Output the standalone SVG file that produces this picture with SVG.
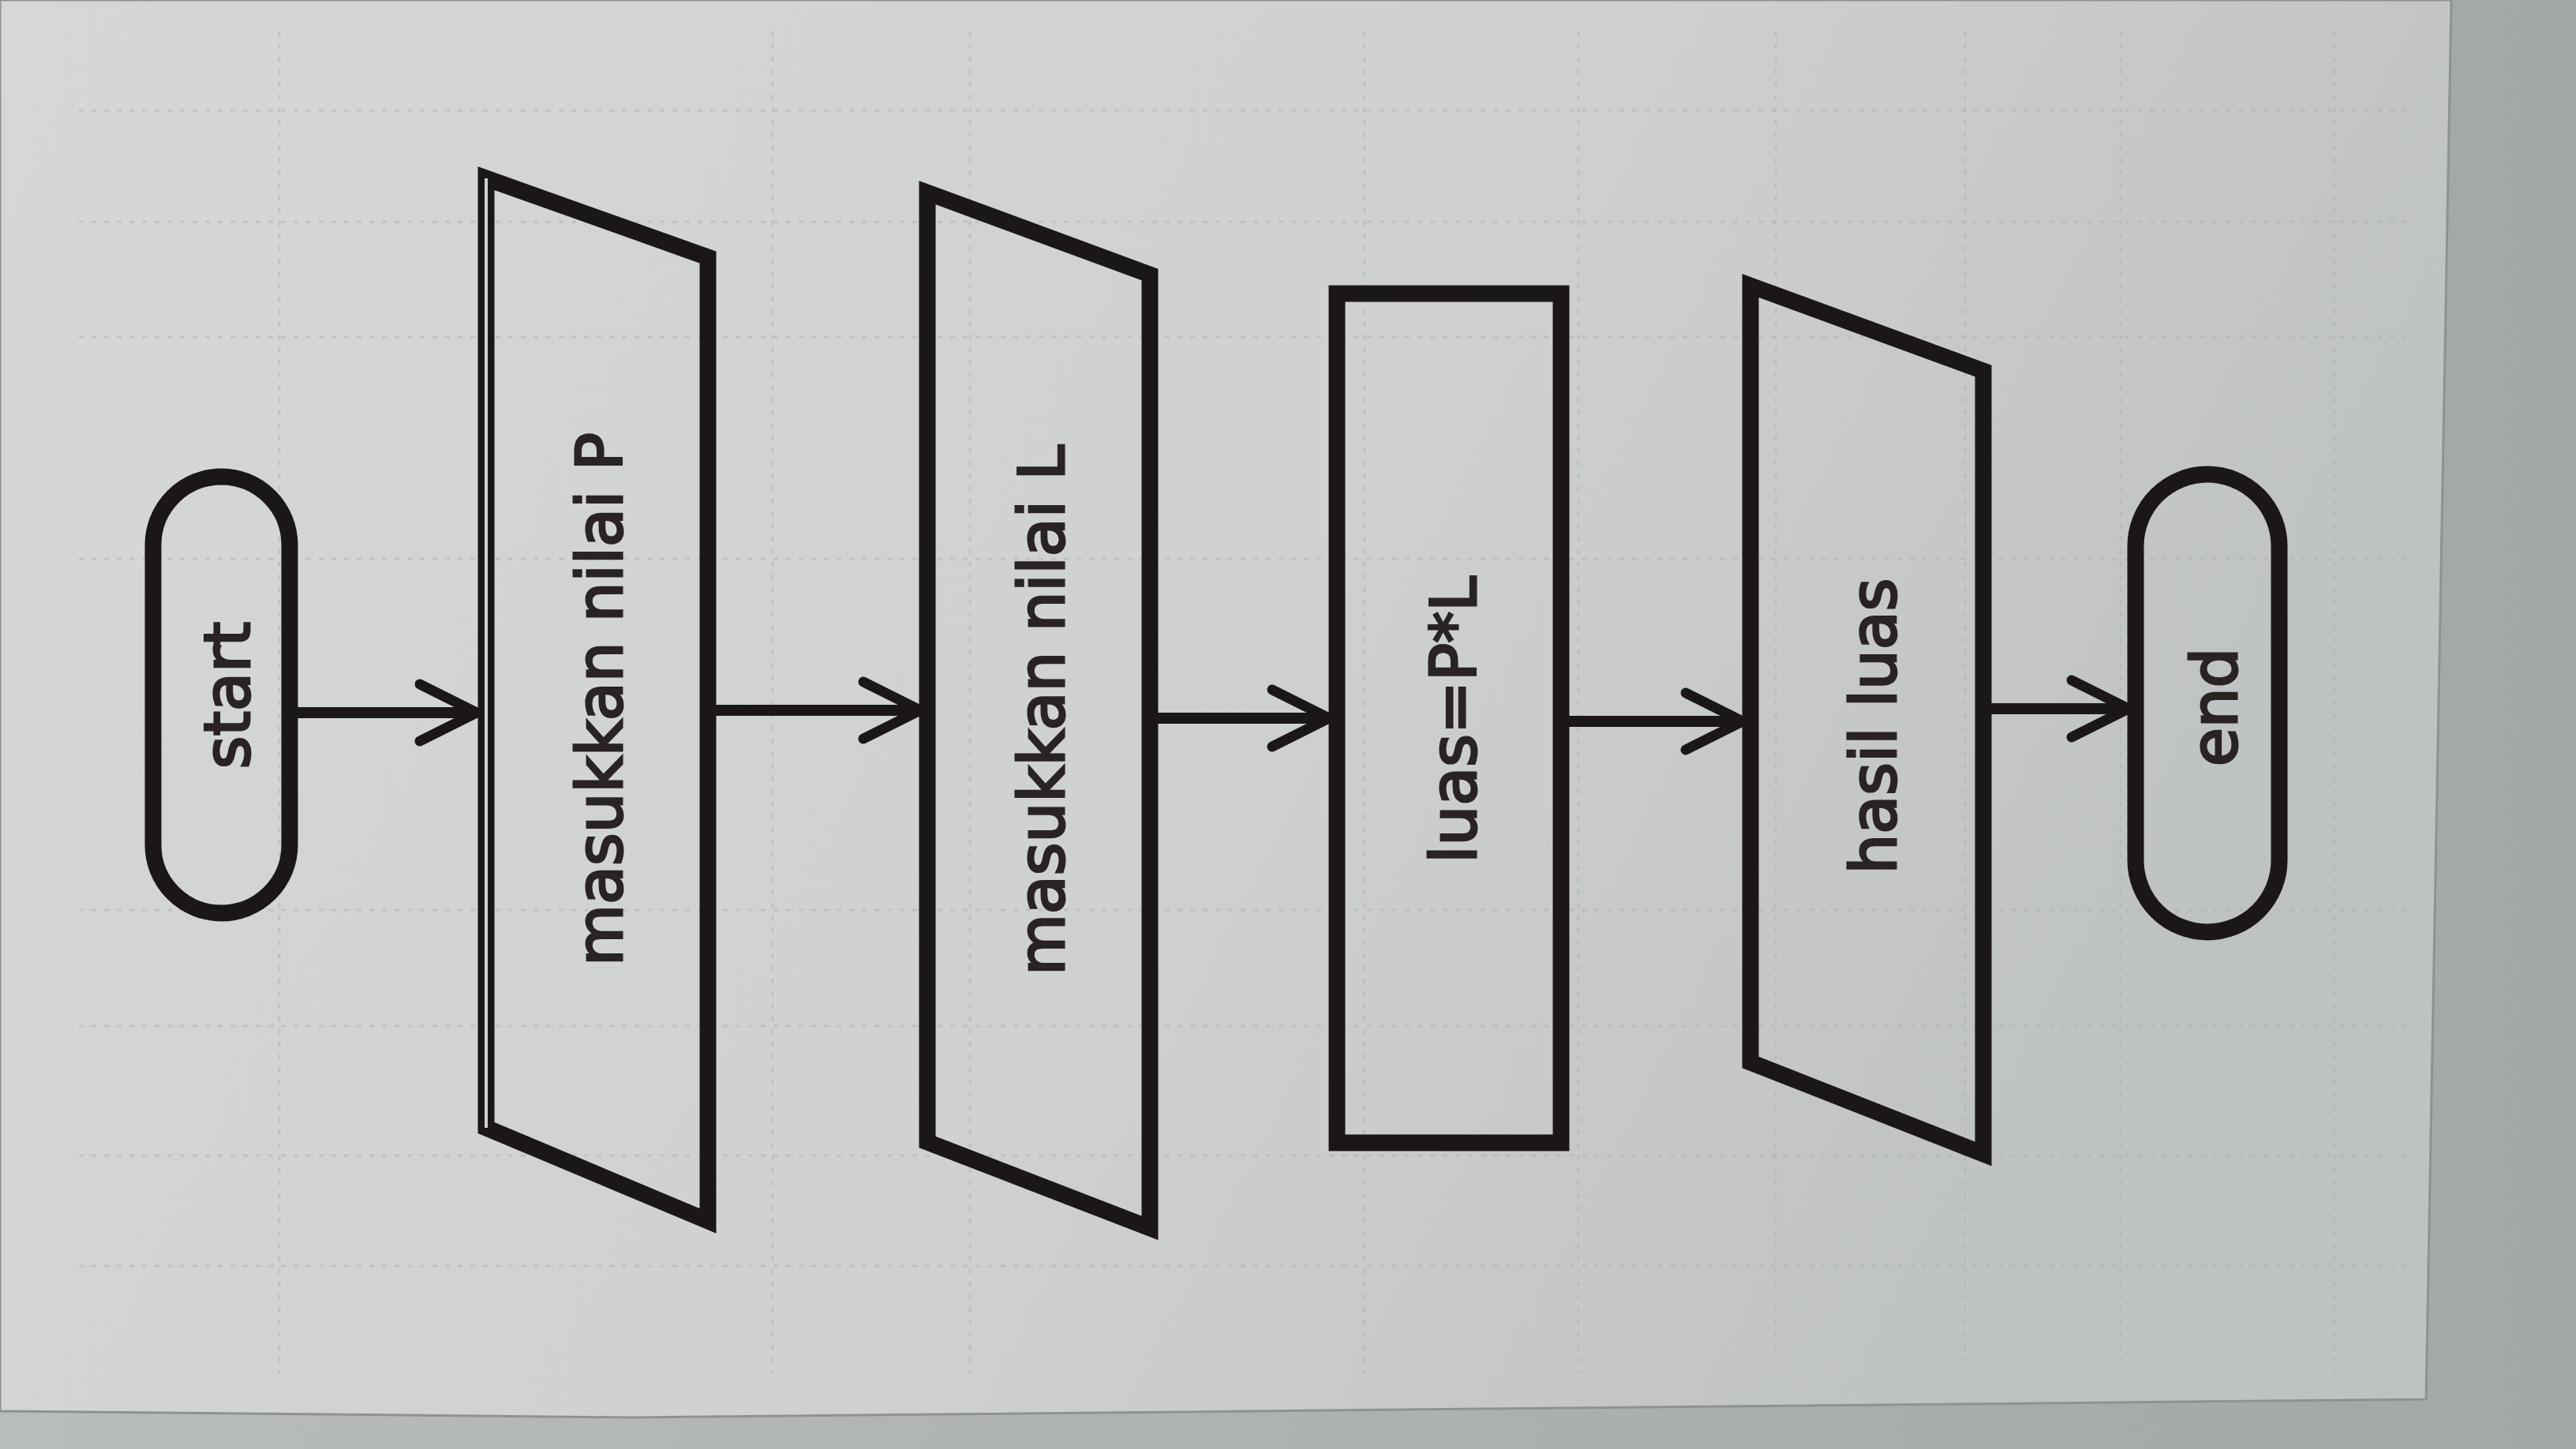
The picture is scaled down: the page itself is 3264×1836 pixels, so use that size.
<svg xmlns="http://www.w3.org/2000/svg" width="3264" height="1836" viewBox="0 0 3264 1836">
  <defs>
    <linearGradient id="paper" x1="0" y1="0" x2="1" y2="0.3">
      <stop offset="0" stop-color="#d5d8d6"/>
      <stop offset="0.6" stop-color="#ced1cf"/>
      <stop offset="1" stop-color="#bfc2c2"/>
    </linearGradient>
    <linearGradient id="outside" x1="0" y1="0" x2="1" y2="0">
      <stop offset="0" stop-color="#b9bcbc"/>
      <stop offset="1" stop-color="#a4a7a8"/>
    </linearGradient>
    <marker id="arrow" markerUnits="userSpaceOnUse" markerWidth="100" markerHeight="100" viewBox="-90 -50 100 100" refX="0" refY="0" orient="auto">
      <path d="M -72 -36 L 0 0 L -72 36" fill="none" stroke="#1c1717" stroke-width="13" stroke-linecap="round" stroke-linejoin="round"/>
    </marker>
  </defs>
  <style>
    .shape { fill: none; stroke: #1c1717; stroke-width: 21; stroke-linejoin: miter; }
    .conn { fill: none; stroke: #1c1717; stroke-width: 14; marker-end: url(#arrow); }
    .label { font-family: "DejaVu Sans", Verdana, sans-serif; font-size: 80px; fill: #2a2323; stroke: #2a2323; stroke-width: 3; text-anchor: middle; }
    .grid { fill: none; stroke: #a9adad; stroke-width: 3; stroke-dasharray: 6 10; opacity: 0.45; }
  </style>

  <!-- background: table and paper sheet -->
  <rect x="0" y="0" width="3264" height="1836" fill="url(#outside)"/>
  <polygon points="0,0 3106,0 3074,1773 800,1796 0,1788" fill="url(#paper)" stroke="#8e9292" stroke-width="3"/>

  <!-- faint printed grid on the paper -->
  <g id="grid">
    <path class="grid" d="M 100 140 H 3060 M 100 281 H 3060 M 100 427 H 3060 M 100 708 H 3060 M 100 1153 H 3060 M 100 1300 H 3060 M 100 1464 H 3060 M 100 1604 H 3060"/>
    <path class="grid" d="M 354 40 V 1740 M 979 40 V 1740 M 1229 40 V 1740 M 1729 40 V 1740 M 2000 40 V 1740 M 2250 40 V 1740 M 2490 40 V 1740 M 2687 40 V 1740 M 2958 40 V 1740"/>
  </g>

  <g id="connectors">
    <line class="conn" x1="376" y1="903" x2="604" y2="903"/>
    <line class="conn" x1="897" y1="900" x2="1166" y2="900"/>
    <line class="conn" x1="1457" y1="910" x2="1684" y2="910"/>
    <line class="conn" x1="1978" y1="914" x2="2208" y2="914"/>
    <line class="conn" x1="2513" y1="898" x2="2697" y2="898"/>
  </g>

  <g id="start">
    <rect class="shape" x="194" y="604" width="173" height="553" rx="86.5" ry="86.5"/>
    <text class="label" transform="translate(316,881) rotate(-90)">start</text>
  </g>

  <g id="input-p">
    <polygon class="shape" points="616,226 897,326 897,1547 616,1429"/>
    <line x1="616" y1="226" x2="616" y2="1429" stroke="#cfd2d1" stroke-width="4"/>
    <text class="label" transform="translate(788,886) rotate(-90)">masukkan nilai P</text>
  </g>

  <g id="input-l">
    <polygon class="shape" points="1175,244 1457,348 1457,1556 1175,1447"/>
    <text class="label" transform="translate(1348,900) rotate(-90)">masukkan nilai L</text>
  </g>

  <g id="process">
    <rect class="shape" x="1694" y="372" width="284" height="1076"/>
    <text class="label" transform="translate(1870,912) rotate(-90)">luas=P*L</text>
  </g>

  <g id="output">
    <polygon class="shape" points="2218,362 2513,470 2513,1462 2218,1346"/>
    <text class="label" transform="translate(2402,920) rotate(-90)">hasil luas</text>
  </g>

  <g id="end">
    <rect class="shape" x="2706" y="601" width="182" height="580" rx="91" ry="91"/>
    <text class="label" transform="translate(2834,896) rotate(-90)">end</text>
  </g>
</svg>
